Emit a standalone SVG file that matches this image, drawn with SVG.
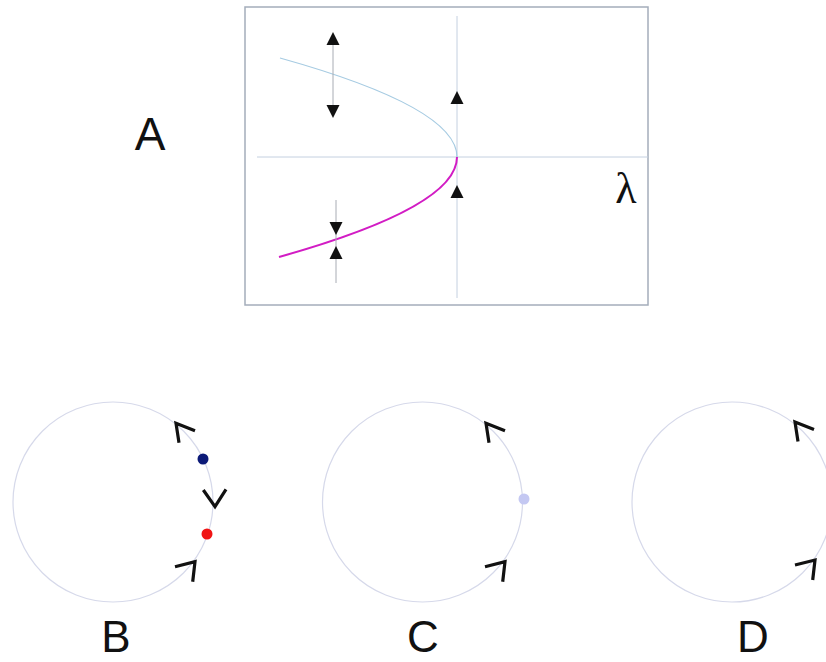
<svg xmlns="http://www.w3.org/2000/svg" xmlns:xlink="http://www.w3.org/1999/xlink" width="826" height="662" viewBox="0 0 826 662">
<style>
.lbl{font-family:"Liberation Sans","DejaVu Sans",sans-serif;font-size:46px;fill:#111;text-anchor:middle}
.lblb{font-family:"Liberation Sans","DejaVu Sans",sans-serif;font-size:44px;fill:#111;text-anchor:middle}
.axis{stroke:#c4d0e0;stroke-width:1;fill:none}
.orbit{stroke:#d6d9ea;stroke-width:1.2;fill:none}
.chev{stroke:#111;stroke-width:3.2;fill:none;stroke-linejoin:miter;stroke-linecap:butt}
.tri{fill:#111}
.flow{stroke:#a8acb4;stroke-width:1;fill:none}
</style>
<defs>
<path id="chevUp" d="M19,7.5 L0,0 L3,19.5"/>
<path id="chevLow" d="M-20,5 L0,0 L-2.3,20"/>
<path id="triUp" d="M0,0 L6.5,13 L-6.5,13 Z"/>
<path id="triDown" d="M0,0 L6.5,-13 L-6.5,-13 Z"/>
</defs>
<rect width="826" height="662" fill="#ffffff"/>

<g id="labelA"><text class="lbl" x="150" y="150">A</text></g>

<g id="panelA">
<rect x="245" y="7" width="403" height="298" fill="#ffffff" stroke="#a4adbb" stroke-width="1.5"/>
<line class="axis" x1="457" y1="16" x2="457" y2="298"/>
<line class="axis" x1="257" y1="157" x2="648" y2="157"/>
<path d="M457,157 Q457,107.5 280,58" fill="none" stroke="#a6cbe2" stroke-width="1.2"/>
<path d="M457,157 Q457,207 279,257" fill="none" stroke="#d21cc4" stroke-width="2"/>
<text x="626" y="203" font-family="Liberation Serif, DejaVu Serif, serif" font-size="44" fill="#111" text-anchor="middle">λ</text>
</g>

<g id="connectors">
<line class="flow" x1="333" y1="40" x2="333" y2="110"/>
<use href="#triUp" class="tri" x="333" y="32"/>
<use href="#triDown" class="tri" x="333" y="118"/>
<line class="flow" x1="336" y1="200" x2="336" y2="283"/>
<use href="#triDown" class="tri" x="336" y="235"/>
<use href="#triUp" class="tri" x="336" y="246"/>
<use href="#triUp" class="tri" x="457" y="91"/>
<use href="#triUp" class="tri" x="457" y="185"/>
</g>

<g id="circleB">
<circle class="orbit" cx="113" cy="502" r="100"/>
<use href="#chevUp" class="chev" x="176" y="423.3"/>
<path class="chev" d="M203.3,490 L215,506.7 L226,489.3"/>
<use href="#chevLow" class="chev" x="195" y="561.7"/>
<circle cx="203" cy="459" r="5.5" fill="#0c1a78"/>
<circle cx="207" cy="534" r="5.5" fill="#f01414"/>
<text class="lblb" x="116" y="652">B</text>
</g>

<g id="circleC">
<circle class="orbit" cx="422.5" cy="502" r="100"/>
<use href="#chevUp" class="chev" x="486" y="423.3"/>
<use href="#chevLow" class="chev" x="505" y="561.7"/>
<circle cx="524" cy="499" r="5.5" fill="#c4c8f2"/>
<text class="lblb" x="423" y="652">C</text>
</g>

<g id="circleD">
<circle class="orbit" cx="732" cy="502" r="100"/>
<use href="#chevUp" class="chev" x="795" y="422"/>
<use href="#chevLow" class="chev" x="815" y="560"/>
<text class="lblb" x="753" y="652">D</text>
</g>
</svg>
